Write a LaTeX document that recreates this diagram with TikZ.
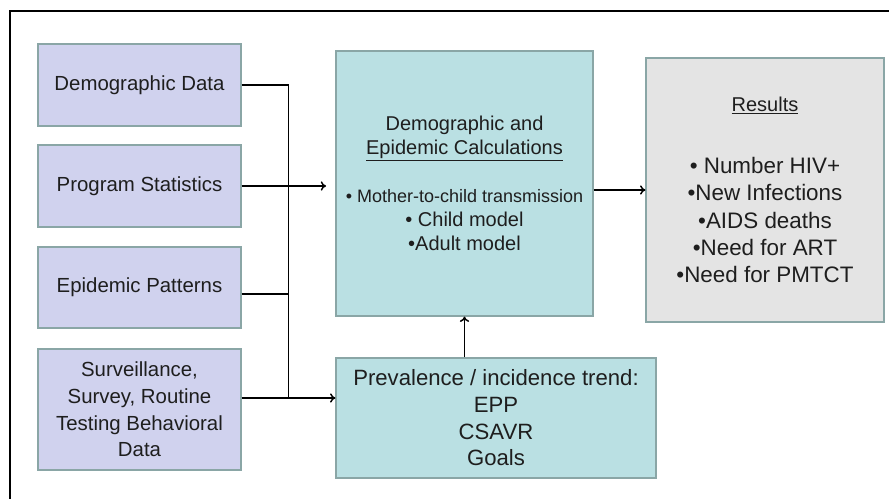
\documentclass[tikz,border=0pt]{standalone}
\usepackage{fontspec}
\setmainfont{Liberation Sans}
\usepackage{xcolor}
\usetikzlibrary{positioning,calc,arrows.meta}

\definecolor{inputfill}{RGB}{208,210,238}
\definecolor{calcfill}{RGB}{186,224,227}
\definecolor{resfill}{RGB}{228,228,228}
\definecolor{boxline}{RGB}{138,166,166}
\definecolor{textgray}{RGB}{30,30,30}

\tikzset{
  inbox/.style={draw=boxline, fill=inputfill, line width=0.9pt, inner sep=0pt,
    minimum width=152.25pt, align=center, text=textgray,
    font=\fontsize{15.3}{20}\selectfont},
  calcbox/.style={draw=boxline, fill=calcfill, line width=0.9pt, inner sep=0pt,
    align=center, text=textgray},
  resbox/.style={draw=boxline, fill=resfill, line width=0.9pt, inner sep=0pt,
    align=center, text=textgray},
  link/.style={line width=1.1pt, draw=black}
}

\begin{document}
\begin{tikzpicture}[x=0.75pt, y=-0.75pt, >={To[length=4pt,width=7pt]}]
    \useasboundingbox (0,0) rectangle (889,499);
    \clip (0,0) rectangle (889,499);
    \draw[line width=1.5pt] (10,11) rectangle (900,510);

    % inputs
    \node[inbox, minimum height=61.5pt] (demog) at (139.5,85) {Demographic Data};
    \node[inbox, minimum height=61.5pt] (progstat) at (139.5,186) {Program Statistics};
    \node[inbox, minimum height=60.75pt] (epipat) at (139.5,287.5) {Epidemic Patterns};
    \node[inbox, minimum height=90.75pt] (surv) at (139.5,409.5)
        {Surveillance,\\Survey, Routine\\Testing Behavioral\\Data};

    % model
    \node[calcbox, minimum width=192.75pt, minimum height=198.75pt,
          font=\fontsize{15}{18}\selectfont] (calc) at (464.5,183.5)
        {Demographic and\\\underline{Epidemic Calculations}\\[18pt]
         {\fontsize{13.5}{18}\selectfont • Mother-to-child transmission}\\
         • Child model\\•Adult model};
    \node[resbox, minimum width=178.5pt, minimum height=198pt,
          font=\fontsize{16.8}{20.5}\selectfont] (res) at (765,190)
        {{\fontsize{15}{20.5}\selectfont\underline{Results}}\\[26pt]
         • Number HIV+\\•New Infections\\•AIDS deaths\\•Need for ART\\•Need for PMTCT};
    \node[calcbox, minimum width=240pt, minimum height=90pt,
          font=\fontsize{16.6}{20}\selectfont] (trend) at (496,418)
        {Prevalence / incidence trend:\\EPP\\CSAVR\\Goals};

    % connectors
    \coordinate (survout) at ($(surv.east)+(0,-11.5)$);
    \coordinate (epiout) at ($(epipat.east)+(0,6.5)$);
    \coordinate (bus) at ($(survout)+(47,0)$);
    \draw[link] (demog.east) -| (bus);
    \draw[link] (epiout) -- (epiout -| bus);
    \draw[link, ->, shorten >=7pt] (progstat.east) -- (progstat.east -| calc.west);
    \draw[link, ->] (survout) -- (survout -| trend.west);
    \draw[link, ->] (calc.east |- res.west) -- (res.west);
    \draw[link, ->] (trend.north -| calc.south) -- (calc.south);
\end{tikzpicture}
\end{document}
